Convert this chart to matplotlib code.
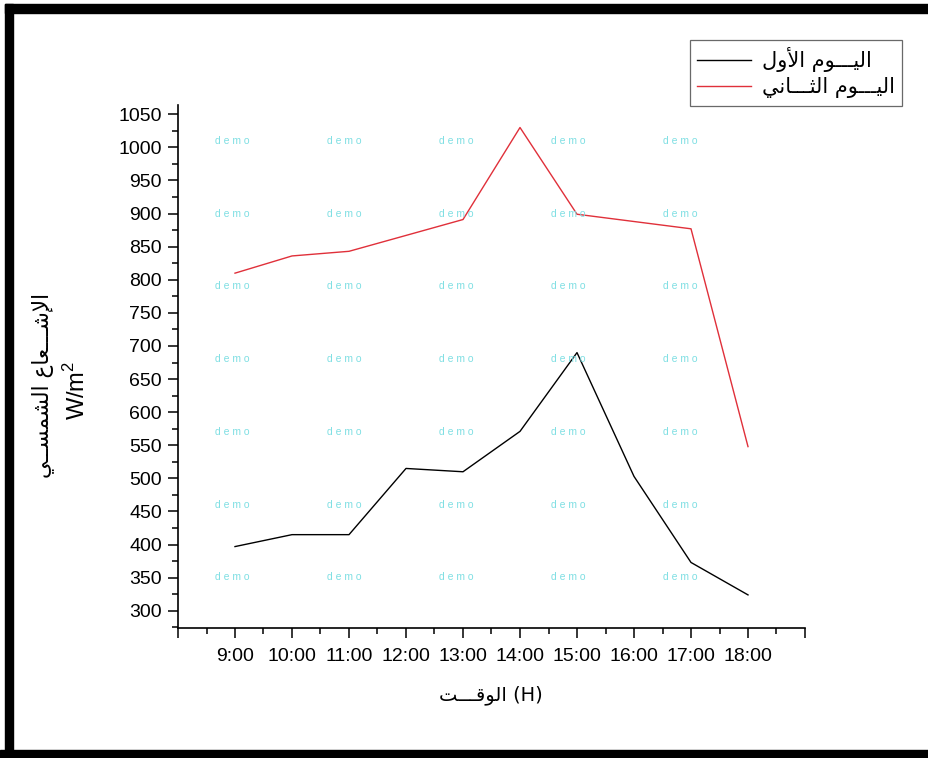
import matplotlib.pyplot as plt
from matplotlib.patches import Rectangle
from matplotlib.ticker import MultipleLocator, FixedLocator

# data
hours = [9, 10, 11, 12, 13, 14, 15, 16, 17, 18]
hour_labels = ['9:00', '10:00', '11:00', '12:00', '13:00',
               '14:00', '15:00', '16:00', '17:00', '18:00']
day_one = [397, 415, 415, 515, 510, 571, 690, 503, 373, 324]
day_two = [810, 836, 843, 867, 891, 1030, 899, 888, 877, 548]

label_day_one = 'اليـــوم الأول'
label_day_two = 'اليـــوم الثـــاني'
y_title = 'الإشـــعاع الشمســي'
x_title = 'الوقـــت'

# matplotlib 3.10 does not shape arabic, so pick presentation forms by hand
# (isolated, final, initial, medial)
FORMS = {
    'ا': ('\uFE8D', '\uFE8E', None, None),
    'أ': ('\uFE83', '\uFE84', None, None),
    'إ': ('\uFE87', '\uFE88', None, None),
    'و': ('\uFEED', '\uFEEE', None, None),
    'ل': ('\uFEDD', '\uFEDE', '\uFEDF', '\uFEE0'),
    'ي': ('\uFEF1', '\uFEF2', '\uFEF3', '\uFEF4'),
    'م': ('\uFEE1', '\uFEE2', '\uFEE3', '\uFEE4'),
    'ث': ('\uFE99', '\uFE9A', '\uFE9B', '\uFE9C'),
    'ن': ('\uFEE5', '\uFEE6', '\uFEE7', '\uFEE8'),
    'ش': ('\uFEB5', '\uFEB6', '\uFEB7', '\uFEB8'),
    'ع': ('\uFEC9', '\uFECA', '\uFECB', '\uFECC'),
    'س': ('\uFEB1', '\uFEB2', '\uFEB3', '\uFEB4'),
    'ق': ('\uFED5', '\uFED6', '\uFED7', '\uFED8'),
    'ت': ('\uFE95', '\uFE96', '\uFE97', '\uFE98'),
    'ـ': ('\u0640', '\u0640', '\u0640', '\u0640'),
    '\uFEFB': ('\uFEFB', '\uFEFC', None, None),
    '\uFEF7': ('\uFEF7', '\uFEF8', None, None),
    '\uFEF9': ('\uFEF9', '\uFEFA', None, None),
}


def shape(text):
    s = text.replace('لا', '\uFEFB').replace('لأ', '\uFEF7').replace('لإ', '\uFEF9')
    out = []
    for i, ch in enumerate(s):
        if ch not in FORMS:
            out.append(ch)
            continue
        prev = s[i - 1] if i > 0 else ''
        nxt = s[i + 1] if i + 1 < len(s) else ''
        join_prev = prev in FORMS and FORMS[prev][2] is not None
        join_next = FORMS[ch][2] is not None and nxt in FORMS
        iso, fin, ini, med = FORMS[ch]
        if join_prev and join_next:
            out.append(med)
        elif join_prev:
            out.append(fin)
        elif join_next:
            out.append(ini)
        else:
            out.append(iso)
    return ''.join(reversed(out))


plt.rcParams['font.family'] = ['Liberation Sans', 'DejaVu Sans']
plt.rcParams['mathtext.fontset'] = 'custom'
plt.rcParams['mathtext.rm'] = 'Liberation Sans'
arabic = ['DejaVu Sans']

W, H = 929, 758
fig = plt.figure(figsize=(W / 100, H / 100), dpi=100)
ax = fig.add_axes([178 / W, 1 - 628 / H, (805 - 178) / W, (628 - 105) / H])

ax.plot(hours, day_one, color='black', lw=1.0, label=shape(label_day_one))
ax.plot(hours, day_two, color='#e0303a', lw=1.0, label=shape(label_day_two))

ax.set_xlim(8, 19)
ax.set_ylim(274, 1064)
ax.xaxis.set_major_locator(FixedLocator(range(8, 20)))
ax.set_xticklabels([''] + hour_labels + [''])
ax.xaxis.set_minor_locator(MultipleLocator(0.5))
ax.yaxis.set_major_locator(FixedLocator(range(300, 1051, 50)))
ax.yaxis.set_minor_locator(MultipleLocator(25))

for side in ['top', 'right']:
    ax.spines[side].set_visible(False)
for side in ['left', 'bottom']:
    ax.spines[side].set_linewidth(1.2)
ax.tick_params(which='major', direction='out', length=7.5, width=1.1,
               labelsize=14, pad=4)
ax.tick_params(which='minor', direction='out', length=4, width=1.1)
ax.tick_params(axis='x', which='major', pad=7)

# demo watermark
for i in range(5):
    for j in range(7):
        fig.text((232 + 112 * i) / W, 1 - (141 + 72.7 * j) / H, 'd e m o',
                 fontsize=7.5, color='#7fdfe3', ha='center', va='center')

# axis titles
fig.text(43 / W, 1 - 385 / H, shape(y_title), rotation=90, fontsize=15.5,
         family=arabic, ha='center', va='center')
fig.text(77 / W, 1 - 390 / H, 'W/m$^\\mathregular{2}$', rotation=90,
         fontsize=17, ha='center', va='center')
fig.text(491 / W, 1 - 695 / H, shape(x_title) + ' (H)', fontsize=14,
         family=arabic, ha='center', va='center')

leg = fig.legend(loc='upper right', bbox_to_anchor=(902 / W, 1 - 40 / H),
                 borderaxespad=0, fancybox=False, edgecolor='#444444',
                 prop={'family': arabic, 'size': 15}, handlelength=2.6,
                 labelspacing=0.25, borderpad=0.35, handletextpad=0.5)
leg.get_frame().set_linewidth(0.9)

# black frame around the picture
for x0, y0, w, h in [(5, 4, 8, 746), (5, 4, W - 5, 9), (0, 750, W, 8)]:
    fig.patches.append(Rectangle((x0 / W, 1 - (y0 + h) / H), w / W, h / H,
                                 transform=fig.transFigure, color='black',
                                 zorder=10))

fig.savefig('out.png', dpi=100)
